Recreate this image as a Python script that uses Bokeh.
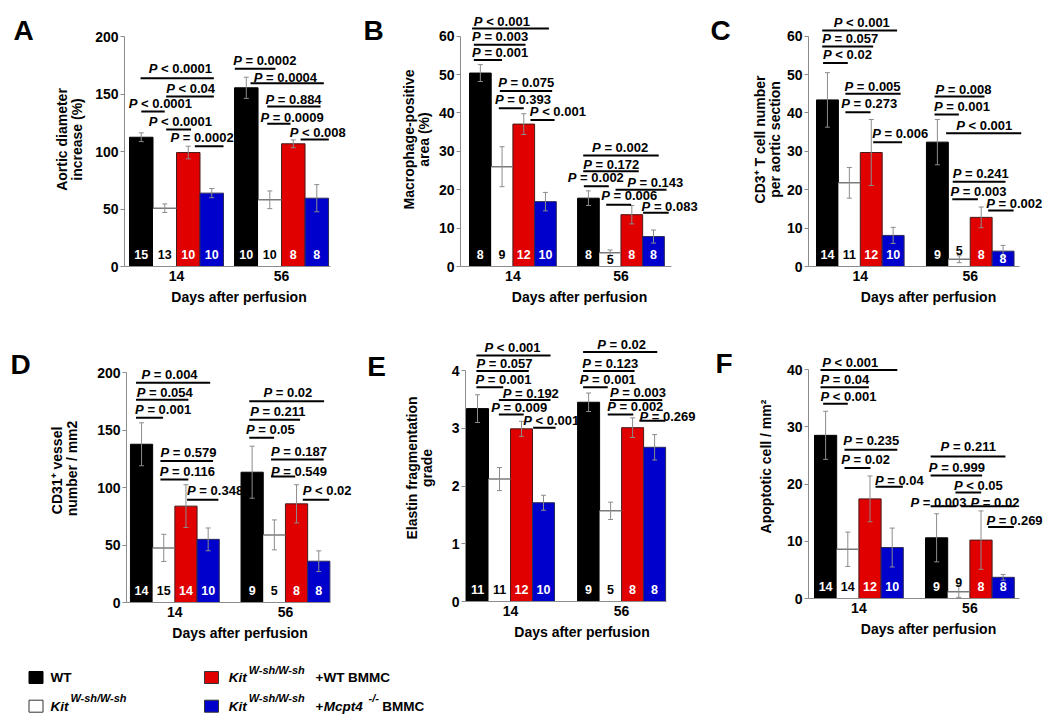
from bokeh.plotting import figure
from bokeh.models import ColumnDataSource, Range1d, FixedTicker
from bokeh.layouts import column, row
from bokeh.embed import file_html
from bokeh.resources import INLINE
from bokeh.core.properties import value

FONT = "Liberation Sans"
GRAY = "#8c8c8c"

# ---------------- data ----------------
groups = ["14", "56"]
series = ["WT", "Kit W-sh/W-sh", "Kit W-sh/W-sh +WT BMMC", "Kit W-sh/W-sh +Mcpt4-/- BMMC"]
bar_fill = ["#000000", "#ffffff", "#e00000", "#0000cc"]
bar_line = ["#000000", "#ffffff", "#4a1a1a", "#2a2a5a"]
n_color = ["#ffffff", "#000000", "#ffffff", "#ffffff"]

A_mean = [112.4, 50.7, 99.1, 63.8, 155.4, 58.0, 106.7, 59.4]
A_err = [3.8, 3.7, 5.5, 4.0, 9.2, 7.7, 3.4, 11.8]
A_n = [15, 13, 10, 10, 10, 10, 8, 8]

B_mean = [50.4, 26.0, 37.1, 16.9, 17.8, 3.6, 13.5, 7.8]
B_err = [2.2, 5.2, 2.7, 2.4, 1.9, 0.7, 2.4, 1.7]
B_n = [8, 9, 12, 10, 8, 5, 8, 8]

C_mean = [43.4, 21.8, 29.7, 8.1, 32.4, 1.9, 12.8, 4.0]
C_err = [7.1, 4.0, 8.6, 2.1, 5.9, 0.9, 2.7, 1.5]
C_n = [14, 11, 12, 10, 9, 5, 8, 8]

D_mean = [137.6, 47.5, 83.8, 54.9, 113.3, 58.8, 85.8, 35.9]
D_err = [18.7, 11.8, 18.6, 9.9, 22.6, 13.0, 16.6, 9.0]
D_n = [14, 15, 14, 10, 9, 5, 8, 8]

E_mean = [3.34, 2.12, 2.99, 1.71, 3.45, 1.57, 3.01, 2.67]
E_err = [0.24, 0.20, 0.13, 0.13, 0.16, 0.15, 0.17, 0.22]
E_n = [11, 11, 12, 10, 9, 5, 8, 8]

F_mean = [28.5, 8.6, 17.4, 8.9, 10.6, 1.2, 10.2, 3.7]
F_err = [4.2, 3.0, 4.0, 3.4, 4.2, 1.0, 5.1, 0.5]
F_n = [14, 14, 12, 10, 9, 9, 8, 8]

# P-value brackets: (x from, x to, bracket height, text start, text, text lift px)
A_p = [
    (0.47, 3.59, 163.7, 0.82, "< 0.0001", 9.3),
    (1.56, 3.59, 147.8, 1.56, "< 0.04", 8.3),
    (0.50, 1.50, 134.8, -0.03, "< 0.0001", 7.7),
    (1.56, 2.62, 119.1, 0.82, "< 0.0001", 8.3),
    (2.78, 4.00, 104.6, 1.74, "= 0.0002", 8.3),
    (4.48, 6.21, 171.9, 4.41, "= 0.0002", 8.3),
    (5.15, 8.27, 159.4, 5.29, "= 0.0004", 6.0),
    (5.86, 8.13, 139.1, 5.79, "= 0.884", 7.0),
    (5.86, 6.85, 124.1, 5.57, "= 0.0009", 6.7),
    (7.28, 8.48, 110.4, 6.82, "< 0.008", 7.3),
]
B_p = [
    (0.12, 3.66, 62.0, 0.20, "< 0.001", 6.7),
    (0.20, 2.58, 57.8, 0.12, "= 0.003", 8.3),
    (0.20, 1.50, 53.8, 0.12, "= 0.001", 7.0),
    (1.40, 3.81, 45.7, 1.32, "= 0.075", 9.0),
    (1.35, 2.50, 41.2, 1.17, "= 0.393", 8.7),
    (2.81, 3.92, 38.2, 2.78, "< 0.001", 8.7),
    (5.24, 8.72, 28.9, 5.65, "= 0.002", 8.3),
    (5.24, 7.80, 24.8, 5.24, "= 0.172", 7.3),
    (5.27, 6.42, 20.9, 4.53, "= 0.002", 8.3),
    (6.73, 9.08, 20.0, 7.27, "= 0.143", 7.7),
    (6.30, 7.45, 16.1, 6.07, "= 0.006", 9.3),
    (8.00, 9.18, 14.0, 7.93, "= 0.083", 6.7),
]
C_p = [
    (0.26, 3.68, 61.5, 0.79, "< 0.001", 8.3),
    (0.26, 2.59, 57.3, 0.26, "= 0.057", 7.7),
    (0.30, 1.43, 53.0, 0.30, "< 0.02", 8.3),
    (1.32, 3.84, 45.0, 1.28, "= 0.005", 7.3),
    (1.32, 2.47, 40.2, 1.13, "= 0.273", 8.3),
    (2.59, 3.91, 32.4, 2.54, "= 0.006", 8.3),
    (5.39, 7.67, 44.3, 5.43, "= 0.008", 7.0),
    (5.39, 6.50, 39.6, 5.36, "= 0.001", 8.0),
    (5.92, 9.35, 34.7, 6.38, "< 0.001", 7.7),
    (6.22, 8.63, 22.1, 6.22, "= 0.241", 7.7),
    (6.20, 7.37, 17.5, 6.12, "= 0.003", 8.3),
    (7.84, 9.00, 14.6, 7.75, "= 0.002", 6.7),
]
D_p = [
    (0.25, 3.59, 191.0, 0.50, "= 0.004", 8.0),
    (0.25, 2.61, 176.2, 0.28, "= 0.054", 7.7),
    (0.25, 1.47, 160.6, 0.21, "= 0.001", 8.0),
    (1.35, 3.72, 123.0, 1.35, "= 0.579", 8.3),
    (1.35, 2.61, 107.0, 1.32, "= 0.116", 8.3),
    (2.55, 3.96, 89.4, 2.55, "= 0.348", 8.7),
    (5.35, 8.72, 175.1, 5.99, "= 0.02", 8.3),
    (5.35, 7.64, 159.0, 5.39, "= 0.211", 8.3),
    (5.35, 6.47, 143.3, 5.20, "= 0.05", 8.0),
    (6.33, 8.70, 124.3, 6.33, "= 0.187", 8.0),
    (6.33, 7.42, 109.6, 6.33, "= 0.549", 5.0),
    (7.76, 8.95, 89.4, 7.76, "< 0.02", 8.7),
]
E_p = [
    (0.45, 3.82, 4.26, 0.82, "< 0.001", 7.7),
    (0.45, 2.83, 3.99, 0.45, "= 0.057", 7.3),
    (0.45, 1.67, 3.71, 0.41, "= 0.001", 7.3),
    (1.47, 3.82, 3.49, 1.65, "= 0.192", 6.0),
    (1.47, 2.60, 3.24, 1.12, "= 0.009", 6.7),
    (3.03, 4.05, 3.01, 2.58, "< 0.001", 7.3),
    (5.30, 8.67, 4.32, 5.94, "= 0.02", 7.7),
    (5.30, 7.64, 3.99, 5.26, "= 0.123", 8.0),
    (5.30, 6.42, 3.71, 5.15, "= 0.001", 7.3),
    (6.52, 8.90, 3.49, 6.52, "= 0.003", 7.0),
    (6.42, 7.58, 3.24, 6.40, "= 0.002", 8.3),
    (7.86, 9.04, 3.13, 7.86, "= 0.269", 4.0),
]
F_p = [
    (0.27, 3.73, 39.9, 0.35, "< 0.001", 7.7),
    (0.27, 2.45, 36.9, 0.27, "= 0.04", 7.3),
    (0.39, 1.50, 34.0, 0.27, "< 0.001", 7.3),
    (1.35, 3.73, 26.0, 1.29, "= 0.235", 9.0),
    (1.35, 2.52, 22.8, 1.20, "= 0.02", 8.7),
    (2.75, 3.98, 19.5, 2.72, "= 0.04", 6.0),
    (5.23, 8.60, 24.8, 5.68, "= 0.211", 10.0),
    (5.23, 7.55, 21.5, 5.15, "= 0.999", 8.3),
    (6.35, 7.51, 18.5, 6.28, "< 0.05", 6.7),
    (5.23, 6.38, 16.1, 4.32, "= 0.003", 4.0),
    (6.60, 9.05, 16.1, 7.03, "= 0.02", 4.0),
    (7.82, 8.98, 12.5, 7.75, "= 0.269", 6.7),
]

# ---------------- layout (page pixels) ----------------
COLS = [(0, 353, 45), (353, 345, 42), (698, 350, 42)]   # column left, column width, letter strip
ROWS = [(0, 330, 12), (330, 319, 334)]  # fig top, fig height, frame top

PANELS = [
    dict(letter="A", mean=A_mean, err=A_err, n=A_n, ann=A_p, ylabel="Aortic diameter\nincrease (%)",
         ymax=200, ystep=50, col=0, row=0, zero=266, top=36, axis=124, bar0=129, barw=23.5, g=4.47,
         aend=330, stand=7, lpos=(13, 23.5)),
    dict(letter="B", mean=B_mean, err=B_err, n=B_n, ann=B_p, ylabel="Macrophage-positive\narea (%)",
         ymax=60, ystep=10, col=1, row=0, zero=266, top=35.7, axis=460, bar0=469, barw=21.7, g=4.98,
         aend=671, stand=4, lpos=(363, 24)),
    dict(letter="C", mean=C_mean, err=C_err, n=C_n, ann=C_p,
         ylabel="CD3\u207a T cell number\nper aortic section",
         ymax=60, ystep=10, col=2, row=0, zero=266, top=35.7, axis=808, bar0=816, barw=21.9, g=5.02,
         aend=1019, stand=1, lpos=(710, 23.5)),
    dict(letter="D", mean=D_mean, err=D_err, n=D_n, ann=D_p, ylabel="CD31\u207a  vessel\nnumber / mm2",
         ymax=200, ystep=50, col=0, row=1, zero=602, top=372, axis=123, bar0=127, barw=22.5, g=4.98,
         aend=330, stand=14, lpos=(10, 366)),
    dict(letter="E", mean=E_mean, err=E_err, n=E_n, ann=E_p, ylabel="Elastin fragmentation\ngrade",
         ymax=4, ystep=1, col=1, row=1, zero=601, top=370, axis=465, bar0=466, barw=22.0, g=5.05,
         aend=666, stand=14, lpos=(366.7, 368)),
    dict(letter="F", mean=F_mean, err=F_err, n=F_n, ann=F_p, ylabel="Apoptotic cell / mm\u00b2",
         ymax=40, ystep=10, col=2, row=1, zero=598, top=369, axis=808, bar0=814, barw=22.2, g=5.00,
         aend=1019, stand=10, lpos=(715, 365)),
]


def tick_key(t):
    t = round(t, 4)
    return int(t) if t == int(t) else t


def plain_fig(w, h):
    f = figure(width=w, height=h, x_range=Range1d(0, w), y_range=Range1d(0, h), title=None,
               output_backend="svg", toolbar_location=None, min_border=0,
               x_axis_type=None, y_axis_type=None)
    f.outline_line_color = None
    f.xgrid.visible = False
    f.ygrid.visible = False
    return f


def make_panel(P):
    col_left, col_w, let_w = COLS[P["col"]]
    fig_left, fig_w = col_left + let_w, col_w - let_w
    fig_top, fig_h, frame_top = ROWS[P["row"]]
    zero, top, ymax = P["zero"], P["top"], P["ymax"]
    barw, bar0 = P["barw"], P["bar0"]
    ppu = (zero - top) / ymax
    x_start = (P["axis"] - bar0) / barw
    x_end = x_start + (fig_left + fig_w - P["axis"]) / barw
    y_end = (zero - frame_top) / ppu

    p = figure(width=fig_w, height=fig_h, x_range=Range1d(x_start, x_end), y_range=Range1d(0, y_end),
               title=None, output_backend="svg", toolbar_location=None,
               min_border_left=P["axis"] - fig_left, min_border_right=0,
               min_border_top=frame_top - fig_top, min_border_bottom=fig_top + fig_h - zero)
    p.outline_line_color = None
    p.xgrid.visible = False
    p.ygrid.visible = False

    g = P["g"]
    xs = [k + 0.5 for k in range(4)] + [g + k + 0.5 for k in range(4)]
    sidx = [k % 4 for k in range(8)]
    mean, err, n = P["mean"], P["err"], P["n"]

    src = ColumnDataSource(dict(
        x=xs, top=mean,
        fill=[bar_fill[s] for s in sidx],
        line=[bar_line[s] for s in sidx],
        la=[0.0 if s == 1 else 1.0 for s in sidx],
    ))
    p.vbar(x="x", top="top", bottom=0, width=1.0, source=src, fill_color="fill",
           line_color="line", line_alpha="la", line_width=1)

    # white bar top edges
    wx = [xs[i] for i in range(8) if sidx[i] == 1]
    wy = [mean[i] for i in range(8) if sidx[i] == 1]
    p.segment(x0=[x - 0.5 for x in wx], x1=[x + 0.5 for x in wx], y0=wy, y1=wy,
              line_color="#7a7a7a", line_width=1.5)

    # error bars
    up = [m + e for m, e in zip(mean, err)]
    lo = [m - e for m, e in zip(mean, err)]
    p.segment(x0=xs, x1=xs, y0=lo, y1=up, line_color=GRAY, line_width=1)
    p.scatter(x=xs + xs, y=up + lo, marker="dash", size=5, line_color=GRAY, line_width=1)

    # n labels
    ny = []
    for i in range(8):
        hpx = mean[i] * ppu
        if hpx >= 12:
            ny.append(min(12.0, hpx - 7) / ppu)
        else:
            ny.append((hpx + 9) / ppu)
    p.text(x=xs, y=ny, text=[str(v) for v in n], text_color=[n_color[s] for s in sidx],
           text_font=value(FONT), text_font_size="12.5px", text_font_style="bold",
           text_align="center", text_baseline="middle")

    # P-value brackets
    ann = P["ann"]
    p.segment(x0=[a[0] for a in ann], x1=[a[1] for a in ann], y0=[a[2] for a in ann],
              y1=[a[2] for a in ann], line_color="black", line_width=2)
    ty = [a[2] + a[5] / ppu for a in ann]
    tx = [a[3] for a in ann]
    p.text(x=tx, y=ty, text=["P"] * len(ann), text_font=value(FONT), text_font_size="13px",
           text_font_style="bold italic", text_align="left", text_baseline="middle", text_color="black")
    p.text(x=tx, y=ty, text=[a[4] for a in ann], x_offset=12.3, text_font=value(FONT),
           text_font_size="13px", text_font_style="bold", text_align="left", text_baseline="middle",
           text_color="black")

    # axes
    xax, yax = p.xaxis[0], p.yaxis[0]
    ticks = [2.0, g + 2.0]
    xax.ticker = FixedTicker(ticks=ticks)
    xax.major_label_overrides = {tick_key(t): lab for t, lab in zip(ticks, groups)}
    xax.bounds = (x_start, (P["aend"] - bar0) / barw)
    xax.major_tick_out = 0
    xax.major_tick_in = 0
    xax.major_label_standoff = 4
    xax.axis_label = "Days after perfusion"
    xax.axis_label_standoff = 5

    yax.ticker = FixedTicker(ticks=list(range(0, ymax + 1, P["ystep"])))
    yax.bounds = (0, ymax)
    yax.major_tick_out = 4
    yax.major_tick_in = 0
    yax.major_label_standoff = 2
    yax.axis_label = P["ylabel"]
    yax.axis_label_standoff = P["stand"]
    yax.axis_label_text_line_height = 0.95

    for ax in (xax, yax):
        ax.axis_line_color = GRAY
        ax.axis_line_width = 1
        ax.major_tick_line_color = GRAY
        ax.minor_tick_line_color = None
        ax.major_label_text_font = FONT
        ax.major_label_text_font_size = "14px"
        ax.major_label_text_font_style = "bold"
        ax.major_label_text_color = "black"
        ax.axis_label_text_font = FONT
        ax.axis_label_text_font_size = "14px"
        ax.axis_label_text_font_style = "bold"
        ax.axis_label_text_color = "black"

    # panel letter in its own strip (lpos = left edge, vertical centre)
    lf = plain_fig(let_w, fig_h)
    lx, ly = P["lpos"]
    lf.text(x=[lx - col_left], y=[fig_h - (ly - fig_top)], text=[P["letter"]], text_font=value(FONT),
            text_font_size="28px", text_font_style="bold", text_align="left",
            text_baseline="middle", text_color="black")
    return row(lf, p)


cells = [make_panel(P) for P in PANELS]

# ---------------- legend ----------------
LEG_TOP = 649
leg = plain_fig(1048, 70)

sq_x = [35.5, 35.5, 211.0, 211.0]
sq_y = [677.0, 705.7, 677.0, 705.7]
txt_x = [50.0, 50.0, 228.3, 228.3]
leg.rect(x=sq_x, y=[LEG_TOP + 70 - v for v in sq_y], width=14, height=12,
         fill_color=bar_fill, line_color=["#000000", "#333333", "#333333", "#333333"], line_width=1)

# label pieces: (dx, text, style, size, raise px)
KIT = [(0, "Kit", "bold italic", 13.5, 0), (20.0, "W-sh/W-sh", "bold italic", 11, 8)]
pieces = [
    [(0, "WT", "bold", 13.5, 0)],
    KIT,
    KIT + [(86.7, "+WT BMMC", "bold", 13.5, 0)],
    KIT + [(86.7, "+", "bold", 13.5, 0), (95.0, "Mcpt4", "bold italic", 13.5, 0),
           (139.7, "-/-", "bold italic", 11, 8), (153.4, "BMMC", "bold", 13.5, 0)],
]
for i, plist in enumerate(pieces):
    base_y = LEG_TOP + 70 - sq_y[i]
    for dx, t, st, sz, rs in plist:
        leg.text(x=[txt_x[i] + dx], y=[base_y + rs], text=[t], text_font=value(FONT),
                 text_font_size=f"{sz}px", text_font_style=st, text_align="left",
                 text_baseline="middle", text_color="black")

layout = column(row(*cells[0:3]), row(*cells[3:6]), leg)
open("out.html", "w").write(file_html(layout, INLINE))
